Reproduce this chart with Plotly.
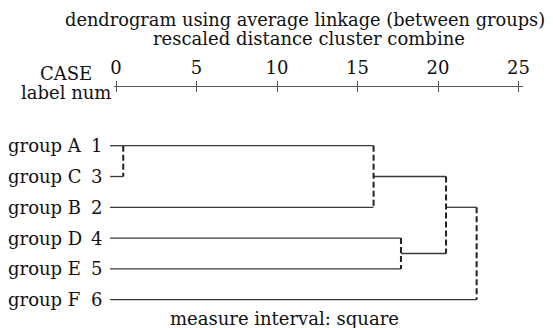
import plotly.graph_objects as go

# ---- data ----
leaf_labels = ["group A", "group C", "group B", "group D", "group E", "group F"]
case_numbers = ["1", "3", "2", "4", "5", "6"]
# clusters 0-5 are the leaves (display order); each merge creates a new cluster id 6, 7, ...
merge_children = [(0, 1), (6, 2), (3, 4), (7, 8), (9, 5)]
merge_distance = [0.45, 16.0, 17.7, 20.5, 22.4]
merge_out_row = [0, 1, 3.5, 2, None]
axis_ticks = [0, 5, 10, 15, 20, 25]
leaf_start = -0.37

title_lines = ["dendrogram using average linkage (between groups)",
               "rescaled distance cluster combine"]
footer = "measure interval: square"

# ---- geometry ----
W, H = 553, 328
X0, XS = 116.0, 16.1      # pixel of distance 0, pixels per unit
Y0, YS = 145.7, 30.8      # pixel of row 0, pixels per row
FONT = "DejaVu Serif"
FS = 18
LINE = "#3a3a3a"

node_row = {i: float(i) for i in range(len(leaf_labels))}
node_x = {i: leaf_start for i in range(len(leaf_labels))}
hx, hy, vx, vy = [], [], [], []
for k, ((a, b), d) in enumerate(zip(merge_children, merge_distance)):
    for c in (a, b):
        hx += [node_x[c], d, None]
        hy += [node_row[c], node_row[c], None]
    vx += [d, d, None]
    vy += [node_row[a], node_row[b], None]
    nid = len(leaf_labels) + k
    node_row[nid] = merge_out_row[k]
    node_x[nid] = d

fig = go.Figure()
fig.add_trace(go.Scatter(x=hx, y=hy, mode="lines", line=dict(color=LINE, width=1.3),
                         hoverinfo="skip", showlegend=False))
fig.add_trace(go.Scatter(x=vx, y=vy, mode="lines",
                         line=dict(color="#222222", width=2, dash="6px,3px"),
                         hoverinfo="skip", showlegend=False))
# dummy traces to carry the scale axes
fig.add_trace(go.Scatter(x=axis_ticks, y=[0] * len(axis_ticks), xaxis="x2", mode="markers",
                         marker=dict(size=1, opacity=0), hoverinfo="skip", showlegend=False))
fig.add_trace(go.Scatter(x=axis_ticks, y=[0] * len(axis_ticks), xaxis="x3", mode="markers",
                         marker=dict(size=1, opacity=0), hoverinfo="skip", showlegend=False))

ax_lo, ax_hi = 114.0, 523.0
ax_range = [(ax_lo - X0) / XS, (ax_hi - X0) / XS]
ax_dom = [ax_lo / W, ax_hi / W]
ax_pos = 1 - 86.0 / H

fig.update_layout(
    width=W, height=H, margin=dict(l=0, r=0, t=0, b=0, autoexpand=False),
    paper_bgcolor="white", plot_bgcolor="rgba(0,0,0,0)",
    font=dict(family=FONT, color="#111111", size=FS),
    xaxis=dict(domain=[0, 1], range=[-X0 / XS, (W - X0) / XS], visible=False,
               automargin=False),
    yaxis=dict(domain=[0, 1], range=[(H - Y0) / YS, -Y0 / YS], visible=False,
               automargin=False),
    xaxis2=dict(domain=ax_dom, range=ax_range, anchor="free", position=ax_pos, side="top",
                showline=True, linecolor="#555555", linewidth=1, automargin=False,
                ticks="outside", ticklen=5, tickcolor="#555555", tickwidth=1,
                tickvals=axis_ticks, ticktext=[str(t) for t in axis_ticks],
                tickfont=dict(family=FONT, size=FS, color="#111111"),
                showgrid=False, zeroline=False, fixedrange=True),
    xaxis3=dict(domain=ax_dom, range=ax_range, anchor="free", position=ax_pos, side="top",
                showline=False, ticks="inside", ticklen=5, automargin=False,
                tickcolor="#555555", tickwidth=1, tickvals=axis_ticks,
                showticklabels=False, showgrid=False, zeroline=False, fixedrange=True),
    showlegend=False,
)

ann = []
ann.append(dict(text=title_lines[0], x=305 / W, y=1 - 19 / H, xref="paper", yref="paper",
                xanchor="center", yanchor="middle", showarrow=False,
                font=dict(size=17.8)))
ann.append(dict(text=title_lines[1], x=309 / W, y=1 - 38 / H, xref="paper", yref="paper",
                xanchor="center", yanchor="middle", showarrow=False))
ann.append(dict(text="CASE", x=66 / W, y=1 - 73.5 / H, xref="paper", yref="paper",
                xanchor="center", yanchor="middle", showarrow=False))
ann.append(dict(text="label num", x=66 / W, y=1 - 92.5 / H, xref="paper", yref="paper",
                xanchor="center", yanchor="middle", showarrow=False))
for i, (lab, num) in enumerate(zip(leaf_labels, case_numbers)):
    ann.append(dict(text=lab, x=6 / W, y=i, xref="paper", yref="y", xanchor="left",
                    yanchor="middle", showarrow=False))
    ann.append(dict(text=num, x=97 / W, y=i, xref="paper", yref="y", xanchor="center",
                    yanchor="middle", showarrow=False))
ann.append(dict(text=footer, x=284 / W, y=1 - 318 / H, xref="paper", yref="paper",
                xanchor="center", yanchor="middle", showarrow=False))
fig.update_layout(annotations=ann)

fig.write_html("out.html", config={"displayModeBar": False},
               post_script="document.body.style.margin='0';document.body.style.padding='0';")
